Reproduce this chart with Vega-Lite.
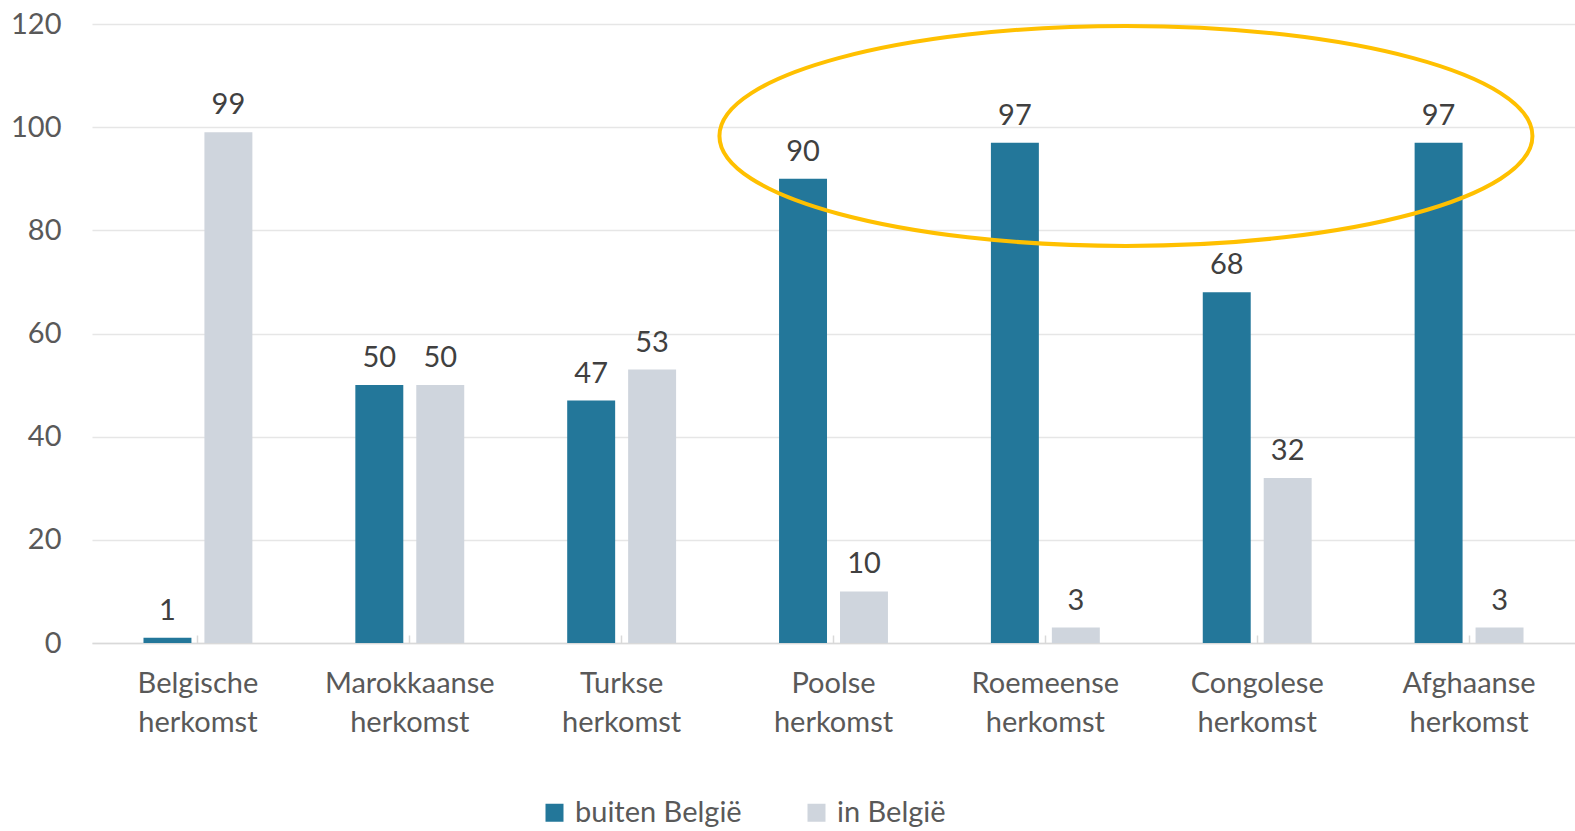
{
  "$schema": "https://vega.github.io/schema/vega-lite/v6.json",
  "width": 1575,
  "height": 831,
  "autosize": {"type": "fit", "contains": "padding"},
  "padding": {"left": 10, "top": 10, "right": 0, "bottom": 94},
  "config": {"font": "Lato", "view": {"stroke": null}},
  "datasets": {
    "bars": [
      {"category": "Belgische herkomst", "series": "buiten België", "value": 1},
      {"category": "Belgische herkomst", "series": "in België", "value": 99},
      {"category": "Marokkaanse herkomst", "series": "buiten België", "value": 50},
      {"category": "Marokkaanse herkomst", "series": "in België", "value": 50},
      {"category": "Turkse herkomst", "series": "buiten België", "value": 47},
      {"category": "Turkse herkomst", "series": "in België", "value": 53},
      {"category": "Poolse herkomst", "series": "buiten België", "value": 90},
      {"category": "Poolse herkomst", "series": "in België", "value": 10},
      {"category": "Roemeense herkomst", "series": "buiten België", "value": 97},
      {"category": "Roemeense herkomst", "series": "in België", "value": 3},
      {"category": "Congolese herkomst", "series": "buiten België", "value": 68},
      {"category": "Congolese herkomst", "series": "in België", "value": 32},
      {"category": "Afghaanse herkomst", "series": "buiten België", "value": 97},
      {"category": "Afghaanse herkomst", "series": "in België", "value": 3}
    ],
    "annotation": [{"category": "Roemeense herkomst", "value": 98.3}]
  },
  "layer": [
    {
      "data": {"name": "bars"},
      "mark": {"type": "bar"},
      "encoding": {
        "x": {
          "field": "category", "type": "nominal", "sort": null,
          "scale": {"paddingInner": 0.486, "paddingOuter": 0.243},
          "axis": {
            "title": null, "labelAngle": 0, "labelFontSize": 29, "labelColor": "#595959",
            "labelLineHeight": 39, "labelPadding": 34, "labelExpr": "split(datum.label, ' ')",
            "domainColor": "#D9D9D9", "domainWidth": 1.5, "tickColor": "#D9D9D9", "tickWidth": 1.5,
            "tickSize": -8, "labelBaseline": "top"
          }
        },
        "xOffset": {"field": "series", "type": "nominal", "sort": null, "scale": {"paddingInner": 0.213, "paddingOuter": 0}},
        "y": {
          "field": "value", "type": "quantitative",
          "scale": {"domain": [0, 120], "nice": false},
          "axis": {
            "title": null, "values": [0, 20, 40, 60, 80, 100, 120], "domain": false, "ticks": false,
            "labelFontSize": 29, "labelColor": "#595959", "labelPadding": 31,
            "gridColor": "#E6E6E6", "gridWidth": 1.3
          }
        },
        "color": {
          "field": "series", "type": "nominal", "sort": null,
          "scale": {"range": ["#23779A", "#CFD5DD"]},
          "legend": {
            "title": null, "orient": "none", "direction": "horizontal", "legendX": 448, "legendY": 774,
            "symbolType": "square", "symbolSize": 324, "symbolStrokeWidth": 0, "labelLimit": 400,
            "labelFontSize": 29, "labelColor": "#595959", "labelOffset": 6, "columnPadding": 60
          }
        }
      }
    },
    {
      "data": {"name": "bars"},
      "mark": {"type": "text", "baseline": "alphabetic", "dy": -18, "fontSize": 29, "color": "#404040"},
      "encoding": {
        "x": {"field": "category", "type": "nominal", "sort": null},
        "xOffset": {"field": "series", "type": "nominal", "sort": null},
        "y": {"field": "value", "type": "quantitative"},
        "text": {"field": "value", "type": "quantitative"}
      }
    },
    {
      "data": {"name": "annotation"},
      "mark": {
        "type": "point", "shape": "M -1 0 A 1 0.2706 0 1 0 1 0 A 1 0.2706 0 1 0 -1 0 Z",
        "size": 660969, "stroke": "#FFC000", "strokeWidth": 4, "filled": false, "opacity": 1
      },
      "encoding": {
        "x": {"field": "category", "type": "nominal", "sort": null, "bandPosition": 1.24},
        "y": {"field": "value", "type": "quantitative"}
      }
    }
  ]
}
